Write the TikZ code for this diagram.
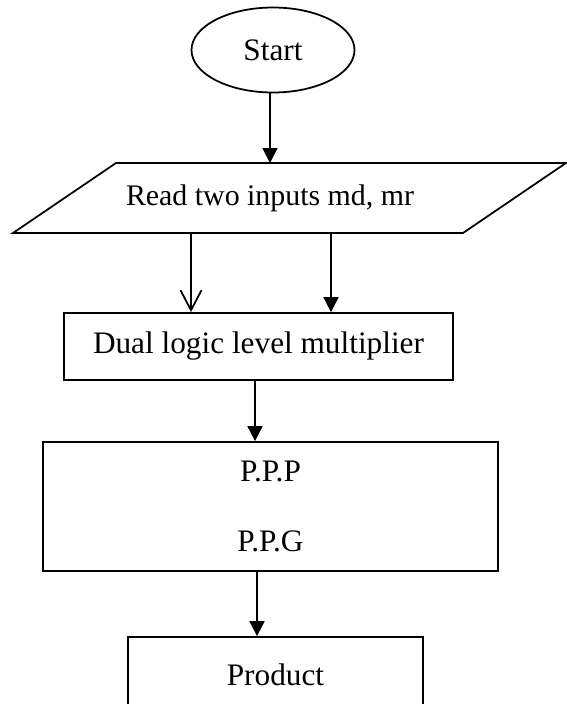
\documentclass[tikz,border=0pt]{standalone}
\usepackage{fontspec}
\setmainfont{Liberation Serif}
\usepackage{tikz}
\usetikzlibrary{arrows.meta, positioning, shapes.geometric, calc}

\begin{document}
\begin{tikzpicture}[line width=1pt,
      txt/.style={font=\fontsize{17.8}{20}\selectfont, inner sep=0pt},
      startnode/.style={ellipse, draw, txt, minimum width=3.26cm, minimum height=1.7cm},
      procbox/.style={rectangle, draw, txt, align=center},
      fillarrow/.style={-{Triangle[length=0.3cm, width=0.3cm]}},
      openarrow/.style={-{Straight Barb[length=0.4cm, width=0.42cm]}}]
    \clip (0,0) rectangle (11.34,-14.08);

    % --- Start ---
    \node[startnode] (start) at (5.46,-1.0) {Start};

    % --- Entrada (paralelogramo) ---
    \coordinate (rdA) at (0.26,-4.66);
    \coordinate (rdB) at (9.26,-4.66);
    \coordinate (rdC) at (11.32,-3.26);
    \coordinate (rdD) at (2.32,-3.26);
    \draw (rdA) -- (rdB) -- (rdC) -- (rdD) -- cycle;
    \node[txt, font=\fontsize{17}{20}\selectfont] (read) at (5.4,-3.96) {Read two inputs md, mr};
    \coordinate (rdtop) at (5.4,-3.26);
    \coordinate (rdL) at (3.82,-4.66);
    \coordinate (rdR) at (6.62,-4.66);

    % --- Blocos ---
    \node[procbox, minimum width=7.78cm, minimum height=1.34cm]
          (dual) at (5.17,-6.93) {Dual logic level multiplier};
    \node[procbox, minimum width=9.1cm, minimum height=2.58cm]
          (ppx) at (5.41,-10.13) {P.P.P\\[19.7pt]P.P.G};
    \node[procbox, minimum width=5.9cm, minimum height=1.5cm]
          (prod) at (5.51,-13.49) {Product};

    % --- Setas ---
    \draw[fillarrow] (start.south -| rdtop) -- (rdtop);
    \draw[openarrow] (rdL) -- (rdL |- dual.north);
    \draw[fillarrow] (rdR) -- (rdR |- dual.north);
    \draw[fillarrow] ([xshift=-0.07cm]dual.south) -- ([xshift=-0.07cm]dual.south |- ppx.north);
    \draw[fillarrow] ([xshift=-0.27cm]ppx.south) -- ([xshift=-0.27cm]ppx.south |- prod.north);
  \end{tikzpicture}
\end{document}
